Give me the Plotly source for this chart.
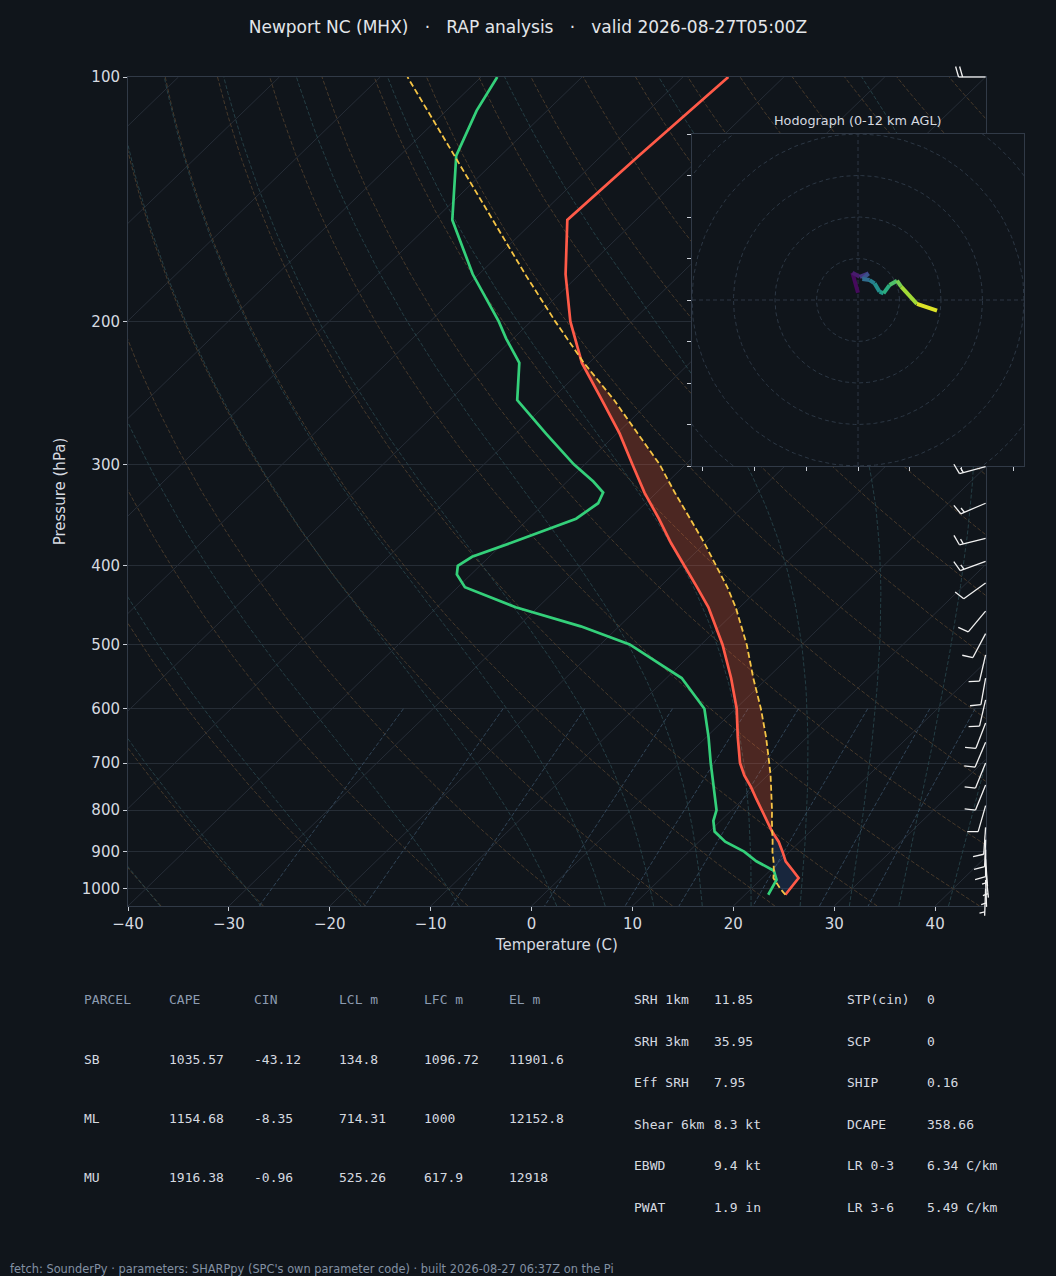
#!/usr/bin/env python3
"""Skew-T log-P + hodograph panel for Newport NC (MHX), RAP analysis."""

import numpy as np
import plotly.graph_objs as go
from plotly.colors import sample_colorscale

# ---------------- sounding values ----------------
t_pres = [1017, 970, 950, 925, 900, 875, 850, 825, 800, 775, 750, 725, 700, 650,
          600, 550, 500, 475, 450, 425, 400, 375, 350, 325, 300, 275, 250, 225,
          200, 175, 150, 125, 100]
t_degc = [24.0, 23.6, 22.3, 20.6, 19.3, 17.9, 16.2, 14.6, 13.0, 11.3, 9.6, 7.7, 6.0, 3.1,
          0.1, -3.6, -7.9, -10.4, -13.1, -16.3, -19.7, -23.4, -27.1, -31.2, -35.3, -39.7,
          -44.9, -50.7, -56.1, -61.4, -66.8, -66.3, -65.5]

td_pres = [1017, 1000, 975, 950, 925, 900, 875, 850, 825, 800, 775, 750, 725, 700, 650,
           600, 550, 500, 475, 450, 425, 410, 400, 390, 375, 350, 335, 325, 315, 300,
           275, 250, 225, 210, 200, 175, 150, 125, 110, 100]
td_degc = [22.3, 22.0, 21.6, 20.4, 17.7, 15.5, 12.6, 10.5, 9.3, 8.5, 7.2, 5.9, 4.5, 3.1, 0.2,
           -3.1, -8.5, -17.1, -23.8, -32.2, -39.3, -41.4, -42.2, -41.7, -39.3, -35.3, -34.7,
           -35.3, -37.4, -41.1, -47.0, -53.3, -56.9, -60.7, -63.2, -70.6, -78.2, -84.4,
           -87.0, -88.4]

parcel_pres = [1017, 1000, 970, 950, 925, 900, 875, 850, 825, 800, 775, 750, 725, 700,
               650, 600, 550, 500, 475, 450, 425, 400, 375, 350, 325, 300, 275, 250,
               225, 200, 175, 150, 125, 100]
parcel_degc = [24.0, 22.9, 21.1, 20.4, 19.4, 18.3, 17.3, 16.2, 15.1, 14.0, 12.8, 11.6, 10.3,
               8.9, 5.9, 2.5, -1.4, -5.5, -7.9, -10.4, -13.3, -16.6, -20.1, -24.0, -28.2,
               -32.6, -37.9, -43.7, -50.5, -57.6, -65.4, -74.2, -84.6, -97.3]

# wind barbs that are not hidden behind the hodograph inset
barb_pres = [100, 302, 335, 370, 395, 420, 455, 485, 515, 550, 585, 625, 660, 700, 745,
             790, 840, 870, 895, 920, 950, 975, 1000]
barb_dir = [270, 255, 247, 256, 250, 234, 220, 208, 193, 190, 193, 201, 203, 202, 202,
            196, 184, 182, 180, 176, 174, 178, 182]
barb_kt = [20, 15, 15, 15, 15, 10, 10, 10, 10, 10, 10, 10, 10, 10, 10, 10, 10, 10, 10,
           5, 5, 5, 5]

# hodograph (0-12 km)
hodo_u = [0.0, -2.7, 0.8, 5.1, 2.1, 5.6, 8.0, 10.4, 12.3, 15.2, 18.8, 20.8, 28.4, 38.1]
hodo_v = [3.5, 13.1, 11.2, 12.8, 10.1, 9.6, 8.0, 4.0, 3.2, 7.2, 9.3, 6.4, -1.9, -5.1]
hodo_km = [0.0, 0.6, 1.2, 2.4, 3.6, 4.8, 5.6, 6.2, 6.8, 8.0, 9.2, 9.8, 10.8, 12.0]

# parameter tables
parcel_head = ["PARCEL", "CAPE", "CIN", "LCL m", "LFC m", "EL m"]
parcel_name = ["SB", "ML", "MU"]
parcel_cape = [1035.57, 1154.68, 1916.38]
parcel_cin = [-43.12, -8.35, -0.96]
parcel_lcl = [134.8, 714.31, 525.26]
parcel_lfc = [1096.72, 1000, 617.9]
parcel_el = [11901.6, 12152.8, 12918]

kin_label = ["SRH 1km", "SRH 3km", "Eff SRH", "Shear 6km", "EBWD", "PWAT"]
kin_value = ["11.85", "35.95", "7.95", "8.3 kt", "9.4 kt", "1.9 in"]
comp_label = ["STP(cin)", "SCP", "SHIP", "DCAPE", "LR 0-3", "LR 3-6"]
comp_value = ["0", "0", "0.16", "358.66", "6.34 C/km", "5.49 C/km"]

TITLE = "Newport NC (MHX)   \u00b7   RAP analysis   \u00b7   valid 2026-08-27T05:00Z"
FOOTER = ("fetch: SounderPy \u00b7 parameters: SHARPpy (SPC's own parameter code) "
          "\u00b7 built 2026-08-27 06:37Z on the Pi")

# ---------------- page geometry ----------------
W, H = 1056, 1276
ML, MR, MT, MB = 128, 20, 57, 336
PW, PH = W - ML - MR, H - MT - MB
BOX_R, BOX_T, BOX_B = 985.6, 77, 906          # skew-T box in px
P_BOT, P_TOP = 1050.0, 100.0
T_MIN, T_MAX = -40.0, 45.0
DEC = float(np.log10(P_BOT / P_TOP))
PX_C = (BOX_R - ML) / (T_MAX - T_MIN)          # px per degC
PX_DEC = (BOX_B - BOX_T) / DEC                 # px per pressure decade
SKEW = (T_MAX - T_MIN) / DEC                   # 45 deg skew in axes units

BG = "#10151b"
SPINE = "#313a47"
TICK = "#c9ced6"
TXT = "#d6dae0"
RING = "#2c3744"


def skew(t, p):
    return np.asarray(t, float) + SKEW * np.log10(P_BOT / np.asarray(p, float))


def fx(x_px):
    return float((x_px - ML) / PW)


def fy(y_px):
    return float((H - MB - y_px) / PH)


# ---------------- thermodynamic reference lines ----------------
RD, CP, LV, EPS = 287.04, 1005.7, 2.501e6, 0.622


def dt_dlnp(t_k, p):
    es = 6.112 * np.exp(17.67 * (t_k - 273.15) / (t_k - 29.65))
    es = np.minimum(es, 0.9 * p)
    rs = EPS * es / (p - es)
    return (RD * t_k + LV * rs) / (CP + LV ** 2 * rs * EPS / (RD * t_k ** 2))


def moist_lines(t0, p_path):
    t = np.asarray(t0, float) + 273.15
    out = [t.copy()]
    for p1, p2 in zip(p_path[:-1], p_path[1:]):
        h = np.log(p2) - np.log(p1)
        lp = np.log(p1)
        k1 = dt_dlnp(t, np.exp(lp))
        k2 = dt_dlnp(t + h * k1 / 2, np.exp(lp + h / 2))
        k3 = dt_dlnp(t + h * k2 / 2, np.exp(lp + h / 2))
        k4 = dt_dlnp(t + h * k3, np.exp(lp + h))
        t = t + h * (k1 + 2 * k2 + 2 * k3 + k4) / 6
        out.append(t.copy())
    return np.array(out) - 273.15


def stack(lines):
    xs, ys = [], []
    for x, y in lines:
        xs += [float(v) for v in x] + [None]
        ys += [float(v) for v in y] + [None]
    return xs, ys


fig = go.Figure()

p_line = np.geomspace(P_BOT, P_TOP, 120)
isotherms = [(skew(np.full_like(p_line, t0), p_line), p_line) for t0 in range(-130, 41, 10)]
dry = [(skew((t0 + 273.15) * (p_line / 1000.0) ** 0.2857 - 273.15, p_line), p_line)
       for t0 in range(-40, 246, 10)]

moist_t0 = np.concatenate([np.arange(-40, 0, 10), np.arange(0, 96, 5)])
p_up = np.geomspace(1000, P_TOP, 100)
p_dn = np.geomspace(1000, P_BOT, 6)
m_up = moist_lines(moist_t0, p_up)
m_dn = moist_lines(moist_t0, p_dn)
p_moist = np.concatenate([p_dn[::-1], p_up[1:]])
moist = []
for j in range(len(moist_t0)):
    tt = np.concatenate([m_dn[::-1, j], m_up[1:, j]])
    moist.append((skew(tt, p_moist), p_moist))

p_mix = np.linspace(600, P_BOT, 40)
mixing = []
for w in [0.0004, 0.001, 0.002, 0.004, 0.007, 0.01, 0.016, 0.024, 0.032]:
    ln_e = np.log(w * p_mix / (EPS + w) / 6.112)
    mixing.append((skew(243.5 * ln_e / (17.67 - ln_e), p_mix), p_mix))

for lines, color, dash, width in [(isotherms, "#262d37", "solid", 1.0),
                                  (dry, "#4d3d2c", "4px,2px", 0.9),
                                  (moist, "#27434a", "4px,2px", 0.9),
                                  (mixing, "#34495e", "4px,2px", 0.9)]:
    xs, ys = stack(lines)
    fig.add_trace(go.Scatter(x=xs, y=ys, mode="lines", hoverinfo="skip",
                             line=dict(color=color, width=width, dash=dash),
                             xaxis="x", yaxis="y"))

# ---------------- CAPE / CIN shading ----------------
lp = np.linspace(np.log10(t_pres[0]), np.log10(P_TOP), 700)
pg = 10 ** lp
env = np.interp(-lp, -np.log10(t_pres), t_degc)
par = np.interp(-lp, -np.log10(parcel_pres), parcel_degc)


def runs(mask):
    idx = np.flatnonzero(mask)
    if idx.size == 0:
        return []
    return np.split(idx, np.flatnonzero(np.diff(idx) > 1) + 1)


for mask, fillc in [((env > par) & (pg > 700), "rgba(60,110,200,0.2)"),
                    (par > env, "rgba(255,95,55,0.25)")]:
    for seg in runs(mask):
        sl = slice(max(seg[0] - 1, 0), min(seg[-1] + 1, len(pg) - 1) + 1)
        xs = np.concatenate([skew(par[sl], pg[sl]), skew(env[sl], pg[sl])[::-1]])
        ys = np.concatenate([pg[sl], pg[sl][::-1]])
        fig.add_trace(go.Scatter(x=xs.tolist(), y=ys.tolist(), mode="lines", fill="toself",
                                 fillcolor=fillc, line=dict(width=0), hoverinfo="skip",
                                 xaxis="x", yaxis="y"))

# ---------------- profiles ----------------
fig.add_trace(go.Scatter(x=skew(t_degc, t_pres).tolist(), y=t_pres, mode="lines", name="T",
                         line=dict(color="#ff5a48", width=2.7), xaxis="x", yaxis="y"))
fig.add_trace(go.Scatter(x=skew(td_degc, td_pres).tolist(), y=td_pres, mode="lines", name="Td",
                         line=dict(color="#34d07a", width=2.7), xaxis="x", yaxis="y"))
fig.add_trace(go.Scatter(x=skew(parcel_degc, parcel_pres).tolist(), y=parcel_pres,
                         mode="lines", name="parcel",
                         line=dict(color="#f5c445", width=1.8, dash="6px,3px"),
                         xaxis="x", yaxis="y"))

# ---------------- hodograph inset ----------------
HR = 80
# opaque panel so the skew-T lines do not show through the inset
fig.add_trace(go.Scatter(x=[-HR, HR, HR, -HR, -HR], y=[-HR, -HR, HR, HR, -HR], mode="lines",
                         fill="toself", fillcolor=BG, line=dict(width=0), hoverinfo="skip",
                         xaxis="x2", yaxis="y2"))
th = np.linspace(0, 2 * np.pi, 241)
rings = [(r * np.cos(th), r * np.sin(th)) for r in (20, 40, 60, 80, 100)]
rings += [([-HR, HR], [0, 0]), ([0, 0], [-HR, HR])]
rx, ry = stack(rings)
fig.add_trace(go.Scatter(x=rx, y=ry, mode="lines", hoverinfo="skip",
                         line=dict(color=RING, width=1, dash="4px,3px"),
                         xaxis="x2", yaxis="y2"))
for i in range(len(hodo_u) - 1):
    c = sample_colorscale("Viridis", [(hodo_km[i] + hodo_km[i + 1]) / 2 / 12.0])[0]
    fig.add_trace(go.Scatter(x=hodo_u[i:i + 2], y=hodo_v[i:i + 2], mode="lines",
                             line=dict(color=c, width=4), hoverinfo="skip",
                             xaxis="x2", yaxis="y2"))

# ---------------- wind barbs ----------------
STAFF, SPACE, FULL_H, FULL_OUT = 27.0, 4.0, 10.5, 3.0
bx, by = [], []
for p0, wd, kt in zip(barb_pres, barb_dir, barb_kt):
    a = np.deg2rad(wd)
    d = np.array([np.sin(a), np.cos(a)])
    r = np.array([d[1], -d[0]])
    tip = STAFF * d
    segs = [(np.zeros(2), tip)]
    nfull, half = int(kt // 10), (kt % 10) >= 5
    for k in range(nfull):
        b = tip - k * SPACE * d
        segs.append((b, b + FULL_OUT * d + FULL_H * r))
    if half:
        b = tip - max(nfull, 1) * SPACE * d
        segs.append((b, b + 0.5 * FULL_OUT * d + 0.5 * FULL_H * r))
    for s0, s1 in segs:
        for e, n in (s0, s1):
            bx.append(float(T_MAX + e / PX_C))
            by.append(float(p0 * 10 ** (-n / PX_DEC)))
        bx.append(None)
        by.append(None)
fig.add_trace(go.Scatter(x=bx, y=by, mode="lines", hoverinfo="skip",
                         line=dict(color="#f2f2f2", width=1.3), xaxis="x3", yaxis="y3"))

# ---------------- axes ----------------
xd1 = fx(BOX_R)
yd0, yd1 = fy(BOX_B), fy(BOX_T)
ins_x0, ins_x1, ins_y0, ins_y1 = 692, 1024, 466, 134

axis_common = dict(showline=True, linecolor=SPINE, linewidth=1, mirror=True,
                   ticks="outside", ticklen=4, tickcolor=TICK, zeroline=False)

fig.update_layout(
    width=W, height=H,
    template="none",
    paper_bgcolor=BG, plot_bgcolor="rgba(0,0,0,0)",
    margin=dict(l=ML, r=MR, t=MT, b=MB, pad=0),
    showlegend=False,
    font=dict(family="DejaVu Sans", color=TXT),
    title=dict(text=TITLE, x=0.5, xanchor="center", y=1 - 27 / H, yanchor="middle",
               font=dict(size=17, color="#e3e6ea")),
    xaxis=dict(domain=[0, xd1], range=[T_MIN, T_MAX], anchor="y",
               tickmode="array", tickvals=list(range(-40, 41, 10)),
               ticktext=[str(v).replace("-", "\u2212") for v in range(-40, 41, 10)],
               tickfont=dict(size=15, color=TXT), showgrid=False,
               title=dict(text="Temperature (C)", font=dict(size=15, color=TXT), standoff=7),
               **axis_common),
    yaxis=dict(domain=[yd0, yd1], type="log",
               range=[float(np.log10(P_BOT)), float(np.log10(P_TOP))],
               anchor="x", tickmode="array", tickvals=list(range(100, 1001, 100)),
               ticktext=[str(v) for v in range(100, 1001, 100)],
               tickfont=dict(size=15, color=TXT), showgrid=True, gridcolor="#262d36",
               gridwidth=1,
               title=dict(text="Pressure (hPa)", font=dict(size=15, color=TXT), standoff=12),
               **axis_common),
    xaxis2=dict(domain=[fx(ins_x0), fx(ins_x1)], range=[-HR, HR], anchor="y2",
                tickmode="array", tickvals=[-75, -50, -25, 0, 25, 50, 75],
                showticklabels=False, showgrid=False, **axis_common),
    yaxis2=dict(domain=[fy(ins_y0), fy(ins_y1)], range=[-HR, HR], anchor="x2",
                tickmode="array", tickvals=list(range(-80, 81, 20)),
                showticklabels=False, showgrid=False, **axis_common),
    xaxis3=dict(domain=[0, 1], range=[T_MIN, float(T_MIN + PW / PX_C)], anchor="y3",
                visible=False),
    yaxis3=dict(domain=[0, 1], type="log", anchor="x3", visible=False,
                range=[float(np.log10(P_BOT) + (H - MB - BOX_B) / PX_DEC),
                       float(np.log10(P_TOP) - (BOX_T - MT) / PX_DEC)]),
)


# ---------------- text ----------------
def txt(x_px, y_px, s, color=TXT, size=13, family="DejaVu Sans Mono", anchor="left"):
    fig.add_annotation(x=fx(x_px), y=fy(y_px), xref="paper", yref="paper", text=s,
                       showarrow=False, xanchor=anchor, yanchor="middle",
                       font=dict(family=family, size=size, color=color))


txt(858, 120, "Hodograph (0-12 km AGL)", size=12.8, family="DejaVu Sans", anchor="center")

HEAD = "#8c9bb0"
col_x = [82, 167, 252, 337, 422, 507]
for cx, h in zip(col_x, parcel_head):
    txt(cx, 1000, h, color=HEAD)
for i, name in enumerate(parcel_name):
    y = 1059 + i * 59
    row = [name] + [f"{v:g}" for v in (parcel_cape[i], parcel_cin[i], parcel_lcl[i],
                                       parcel_lfc[i], parcel_el[i])]
    for cx, s in zip(col_x, row):
        txt(cx, y, s)

for i in range(len(kin_label)):
    y = 1000 + i * 41.4
    txt(632, y, kin_label[i])
    txt(712, y, kin_value[i])
    txt(845, y, comp_label[i])
    txt(925, y, comp_value[i])

txt(8, 1269, FOOTER, color="#8391a3", size=11.4, family="DejaVu Sans")

fig.write_html("out.html", config={"displayModeBar": False},
               post_script="document.body.style.margin='0px';")
